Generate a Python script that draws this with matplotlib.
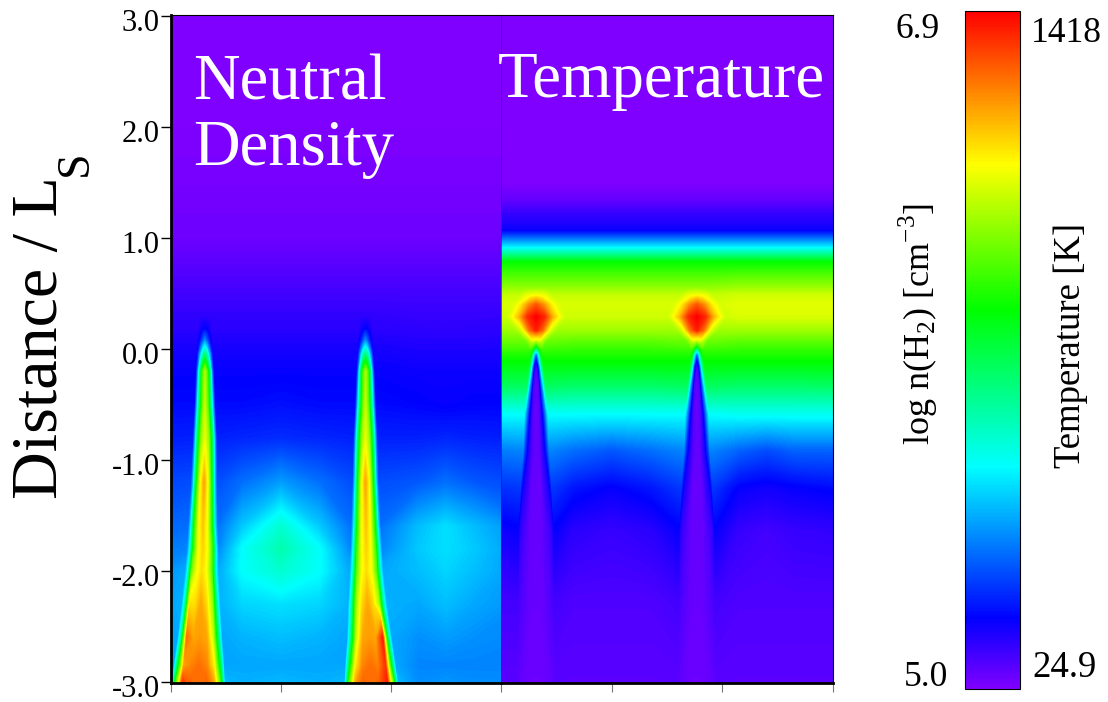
import numpy as np
import matplotlib
matplotlib.use("Agg")
import matplotlib.pyplot as plt
from matplotlib.cm import ScalarMappable
from matplotlib.colors import LinearSegmentedColormap, Normalize
from matplotlib.transforms import ScaledTranslation

plt.rcParams["font.family"] = ["Liberation Serif", "DejaVu Serif"]
plt.rcParams["mathtext.fontset"] = "custom"
plt.rcParams["mathtext.rm"] = "Liberation Serif"

W, H = 1108, 702

# colour table position -> colour
cmap_stops = [0.0, 0.104, 0.328, 0.56, 0.774, 1.0]
cmap_colors = ["#7f00ff", "#0000ff", "#00ffff", "#00ff00", "#ffff00", "#ff0000"]

y_ticks = [3, 2, 1, 0, -1, -2, -3]

# Density panel, all values are positions on the colour table (0-1)
dens_y = [3.05, 2.0, 1.0, 0.5, 0.3, 0.18, 0.08, -0.05, -0.2, -0.5, -0.8, -1.2, -1.6, -1.8, -2.0, -2.3, -2.6, -2.85, -3.05]
dens_c1 = [.308, .308, .308, .308, .308, .308, .308, .308, .308, .308, .308, .30, .29, .29, .28, .272, .263, .254, .245]
dens_c2 = [1.768, 1.768, 1.768, 1.768, 1.768, 1.768, 1.768, 1.768, 1.768, 1.768, 1.768, 1.768, 1.772, 1.775, 1.777, 1.786, 1.804, 1.813, 1.822]
dens_hw = [.055, .055, .055, .055, .055, .055, .063, .072, .08, .09, .105, .115, .13, .14, .15, .172, .20, .227, .245]
# left edge, beside spike, shoulder 1, mid 1, shoulder 2, mid 2, right edge
dens_bg = [
    [0, 0, 0, 0, 0, 0, 0],
    [0, 0, 0, 0, 0, 0, 0],
    [.015, .015, .015, .015, .015, .015, .015],
    [.05, .05, .05, .05, .05, .05, .05],
    [.065, .065, .065, .065, .06, .06, .065],
    [.07, .07, .07, .07, .068, .066, .07],
    [.08, .08, .08, .08, .075, .075, .08],
    [.09, .09, .09, .09, .085, .085, .085],
    [.10, .10, .10, .10, .095, .095, .095],
    [.11, .11, .11, .115, .105, .10, .105],
    [.125, .13, .135, .14, .13, .135, .125],
    [.16, .17, .20, .24, .18, .20, .16],
    [.18, .20, .28, .37, .27, .30, .20],
    [.19, .22, .33, .40, .28, .30, .21],
    [.19, .25, .33, .37, .27, .29, .22],
    [.20, .26, .29, .30, .25, .27, .22],
    [.22, .25, .26, .27, .23, .24, .22],
    [.25, .25, .25, .25, .22, .22, .22],
    [.27, .27, .26, .27, .23, .24, .23],
]
# spike centre, then going outwards
dens_spike = [
    [0, 0, 0, 0],
    [0, 0, 0, 0],
    [.015, .015, .015, .015],
    [.05, .05, .05, .05],
    [.065, .065, .065, .065],
    [.105, .10, .09, .08],
    [.22, .17, .12, .10],
    [.45, .38, .25, .14],
    [.70, .60, .40, .18],
    [.72, .62, .42, .22],
    [.75, .68, .50, .25],
    [.85, .76, .55, .27],
    [.82, .76, .58, .30],
    [.81, .76, .60, .32],
    [.80, .76, .62, .33],
    [.85, .80, .68, .38],
    [.86, .85, .72, .42],
    [.90, .88, .78, .50],
    [.90, .92, .86, .62],
]
# outer flank of spike 1 (left) and spike 2 (right), red patches near the base
dens_flank1 = [0, 0, .015, .05, .065, .09, .12, .25, .40, .42, .50, .55, .58, .60, .66, .80, .90, .85, .98]
dens_flank2 = [0, 0, .015, .05, .065, .09, .12, .25, .40, .42, .50, .55, .58, .60, .62, .70, .97, .95, .98]

# Temperature panel
temp_y = [3.05, 1.5, 1.35, 1.2, 1.07, .92, .78, .55, .49, .40, .29, .17, .08, .02, -.05, -.16, -.34, -.58, -.91, -1.25, -1.63, -2.27, -3.05]
temp_c1 = [.317] * 23
temp_c2 = [1.77] * 23
temp_hw = [.23, .23, .23, .23, .23, .23, .23, .10, .14, .22, .26, .20, .10, .08, .07, .075, .09, .11, .12, .145, .165, .165, .18]
temp_bg = [
    [0, 0, 0, 0, 0, 0, 0],
    [0, 0, 0, 0, 0, 0, 0],
    [.02, .02, .02, .02, .02, .02, .02],
    [.065, .065, .065, .065, .065, .065, .065],
    [.095, .095, .095, .095, .095, .095, .095],
    [.31, .31, .31, .31, .31, .31, .31],
    [.56, .56, .56, .56, .56, .56, .56],
    [.68, .68, .68, .68, .69, .69, .69],
    [.72, .72, .72, .72, .73, .73, .73],
    [.74, .74, .74, .74, .75, .75, .75],
    [.73, .73, .73, .73, .74, .74, .74],
    [.69, .69, .69, .69, .69, .69, .69],
    [.65, .65, .64, .64, .64, .64, .64],
    [.62, .62, .61, .61, .61, .61, .61],
    [.58, .58, .58, .58, .58, .58, .58],
    [.54, .54, .54, .54, .54, .54, .54],
    [.47, .47, .46, .46, .46, .46, .47],
    [.33, .33, .33, .33, .34, .34, .34],
    [.20, .22, .20, .18, .19, .17, .19],
    [.13, .15, .12, .10, .10, .09, .12],
    [.07, .10, .07, .06, .06, .05, .07],
    [.05, .05, .04, .04, .04, .04, .04],
    [.03, .03, .03, .03, .03, .03, .03],
]
temp_spike = [
    [0, 0, 0, 0],
    [0, 0, 0, 0],
    [.02, .02, .02, .02],
    [.065, .065, .065, .065],
    [.095, .095, .095, .095],
    [.31, .31, .31, .31],
    [.56, .56, .56, .56],
    [.68, .68, .68, .68],
    [.76, .755, .75, .73],
    [.92, .87, .79, .75],
    [1.0, .96, .83, .76],
    [.97, .90, .75, .70],
    [.72, .76, .71, .66],
    [.50, .60, .65, .62],
    [.15, .30, .50, .58],
    [.03, .10, .35, .50],
    [.02, .04, .20, .38],
    [.02, .03, .12, .25],
    [.02, .03, .08, .15],
    [.02, .02, .06, .09],
    [.02, .02, .04, .06],
    [.02, .02, .03, .04],
    [.015, .015, .02, .025],
]

rainbow = LinearSegmentedColormap.from_list("rainbow_idl", list(zip(cmap_stops, cmap_colors)), N=512)
levels = np.linspace(0, 1, 257)


def build_mesh(y, c1, c2, hw, bg, spike, mid1, mid2, flank1=None, flank2=None):
    # mesh follows the two spikes so the cones stay sharp
    fr = np.array([-1, -.85, -.6, -.3, 0, .3, .6, .85, 1])
    X, Y, Z = [], [], []
    for i in range(len(y)):
        left, near, s1, m1, s2, m2, right = bg[i]
        a, b, c, d = spike[i]
        f1 = c if flank1 is None else flank1[i]
        f2 = c if flank2 is None else flank2[i]
        prof1 = [near, d, f1, b, a, b, c, d, near]
        prof2 = [near, d, c, b, a, b, f2, d, near]
        xs = ([-.4] + list(c1[i] + fr * hw[i]) + [mid1 - .35, mid1, mid1 + .35]
              + list(c2[i] + fr * hw[i]) + [mid2 - .25, mid2, mid2 + .25, 3.4])
        zs = [left] + prof1 + [s1, m1, s1] + prof2 + [s2, m2, s2, right]
        X.append(xs)
        Y.append([y[i]] * len(xs))
        Z.append(zs)
    return np.array(X), np.array(Y), np.array(Z)


def px_axes(fig, x0, y0, x1, y1):
    return fig.add_axes([x0 / W, 1 - y1 / H, (x1 - x0) / W, (y1 - y0) / H])


def main():
    fig = plt.figure(figsize=(W / 100, H / 100), dpi=100)

    ax1 = px_axes(fig, 171, 15, 501, 683)
    ax2 = px_axes(fig, 501, 15, 833, 683)

    ax1.contourf(*build_mesh(dens_y, dens_c1, dens_c2, dens_hw, dens_bg, dens_spike, 1.0, 2.5,
                             dens_flank1, dens_flank2),
                 levels=levels, cmap=rainbow, extend="both")
    ax2.contourf(*build_mesh(temp_y, temp_c1, temp_c2, temp_hw, temp_bg, temp_spike, 1.0, 2.4),
                 levels=levels, cmap=rainbow, extend="both")

    for ax in (ax1, ax2):
        ax.set_xlim(0, 3)
        ax.set_ylim(-3.01, 3.01)
        for s in ax.spines.values():
            s.set_linewidth(0.8)
        ax.tick_params(axis="x", direction="out", length=6.5, width=0.8, color="#777777", labelbottom=False)
        ax.spines["bottom"].set_linewidth(2)

    ax1.set_xticks([0, 1, 2, 3])
    ax2.set_xticks([1, 2, 3])
    ax1.spines["left"].set_linewidth(2)
    ax1.spines["right"].set_visible(False)
    ax2.spines["left"].set_linewidth(0.5)
    ax2.spines["left"].set_color("#30206a")

    ax1.set_yticks(y_ticks)
    ax1.set_yticklabels([f"{t:.1f}" for t in y_ticks], fontsize=22)
    ax1.tick_params(axis="y", direction="out", length=7.2, width=1, pad=1)
    # labels sit a little below their ticks in the original
    shift = ScaledTranslation(0, -4 / 100, fig.dpi_scale_trans)
    for label in ax1.get_yticklabels():
        label.set_transform(label.get_transform() + shift)
    ax1.yaxis.get_major_ticks()[5].tick1line.set_color("#777777")
    ax2.set_yticks([])

    fig.text(193 / W, 1 - 100 / H, "Neutral", color="white", fontsize=46.5, va="baseline")
    fig.text(193 / W, 1 - 165 / H, "Density", color="white", fontsize=46.5, va="baseline")
    fig.text(498 / W, 1 - 97 / H, "Temperature", color="white", fontsize=46.8, va="baseline")

    fig.text(41 / W, 1 - 338 / H, "Distance / L", fontsize=47.5, rotation=90, ha="center", va="center")
    fig.text(76 / W, 1 - 163 / H, "S", fontsize=33, rotation=90, ha="center", va="center")

    cax = px_axes(fig, 965, 11, 1020, 689)
    cb = fig.colorbar(ScalarMappable(Normalize(0, 1), rainbow), cax=cax)
    cb.set_ticks([])
    cb.outline.set_linewidth(0.8)

    fig.text(918 / W, 1 - 29 / H, "6.9", fontsize=25.5, ha="center", va="center")
    fig.text(926 / W, 1 - 677 / H, "5.0", fontsize=25.5, ha="center", va="center")
    fig.text(1066 / W, 1 - 33 / H, "1418", fontsize=25.5, ha="center", va="center")
    fig.text(1065 / W, 1 - 668 / H, "24.9", fontsize=26.5, ha="center", va="center")

    fig.text(918 / W, 1 - 324 / H, r"log n(H$_{2}$) [cm$^{-3}$]", fontsize=26, rotation=90,
             ha="center", va="center")
    fig.text(1071 / W, 1 - 345 / H, "Temperature [K]", fontsize=26.5, rotation=90,
             ha="center", va="center")

    fig.savefig("out.png", dpi=100)


if __name__ == "__main__":
    main()
